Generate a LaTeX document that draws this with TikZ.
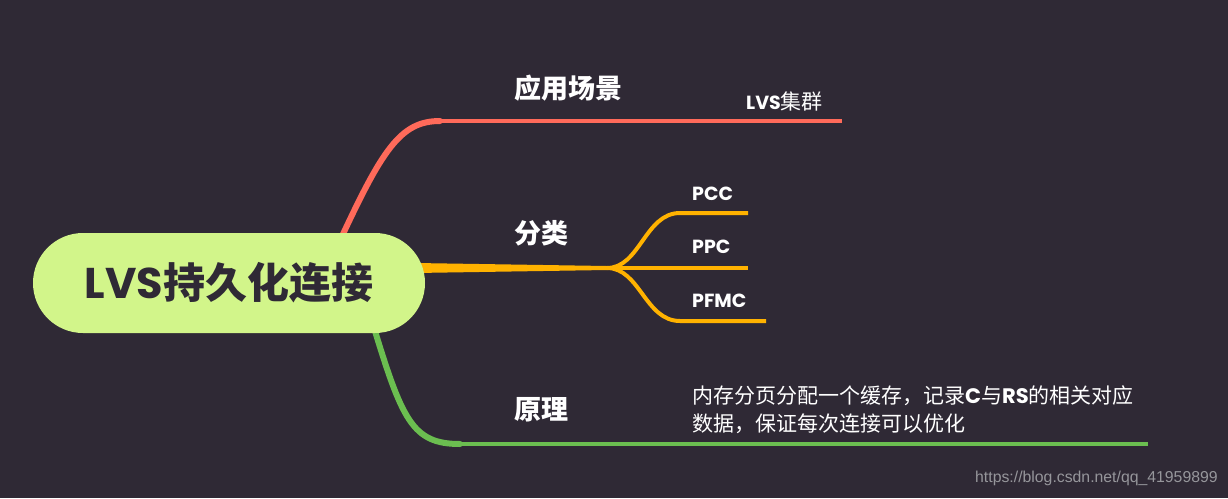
\documentclass[tikz,border=0pt]{standalone}
\usepackage{fontspec}
\setmainfont{Noto Sans CJK SC}
\newfontfamily\cjk{Noto Sans CJK SC}
\newfontfamily\pop{Poppins}
\newfontfamily\wmfont{Liberation Sans}
\usetikzlibrary{calc}
\definecolor{bgc}{RGB}{47,41,53}
\definecolor{nodec}{RGB}{210,245,138}
\definecolor{redb}{RGB}{255,106,90}
\definecolor{orab}{RGB}{255,178,0}
\definecolor{greb}{RGB}{107,190,80}
\definecolor{wmc}{RGB}{150,150,155}
\pgfdeclarelayer{back}
\pgfdeclarelayer{lines}
\pgfsetlayers{back,lines,main}
\tikzset{
  rootbox/.style={rounded corners=50pt, minimum width=392pt, minimum height=100pt, fill=nodec, text=bgc, inner sep=0pt, font=\cjk\bfseries\fontsize{42}{46}\selectfont},
  maintopic/.style={text=white, inner sep=0pt, font=\cjk\bfseries\fontsize{27}{32}\selectfont},
  subtopic/.style={text=white, inner sep=0pt, anchor=west, font=\pop\bfseries\fontsize{19}{23}\selectfont},
  desc/.style={text=white, inner sep=0pt, anchor=west, align=left, font=\cjk\fontsize{21}{28}\selectfont},
  thick1/.style={line width=6pt, line cap=round},
  thin1/.style={line width=4pt},
}
\begin{document}
\begin{tikzpicture}[x=1pt,y=-1pt]
\begin{pgfonlayer}{back}
\fill[bgc] (0,0) rectangle (1228,498);
\end{pgfonlayer}
\useasboundingbox (0,0) rectangle (1228,498);

\node[rootbox] (root) at (229,283) {{\pop\fontsize{43}{46}\selectfont LVS}持久化连接};

% topic labels
\node[maintopic] (t1) at (568.5,88) {应用场景};
\node[maintopic] (t2) at (541.5,233) {分类};
\node[maintopic] (t3) at (541.5,410) {原理};

\node[text=white, inner sep=0pt, anchor=west] (s1) at (746,101) {{\pop\bfseries\fontsize{19}{23}\selectfont LVS}{\cjk\fontsize{21}{23}\selectfont 集群}};
\node[subtopic] (p1) at (692,193.5) {PCC};
\node[subtopic] (p2) at (692,246.5) {PPC};
\node[subtopic] (p3) at (692,301) {PFMC};
\node[desc] (d1) at (692,410) {内存分页分配一个缓存，记录{\pop\bfseries C}与{\pop\bfseries RS}的相关对应\\数据，保证每次连接可以优化};

\node[text=wmc, inner sep=0pt, anchor=west, font=\wmfont\fontsize{15.8}{18}\selectfont] (wm) at (975,478) {https://blog.csdn.net/qq\_41959899};

% connector end points
\coordinate (r0) at (440,121);
\coordinate (r1) at (842,121);
\coordinate (fork) at (607,268);
\coordinate (o1a) at (680,213);
\coordinate (o1) at (748,213);
\coordinate (o2) at (748,268);
\coordinate (o3a) at (680,321);
\coordinate (o3) at (766,321);
\coordinate (g0) at (460,444);
\coordinate (g1) at (1148,444);

\begin{pgfonlayer}{lines}
% red branch
\draw[redb, thick1] ($(root.north)+(109,12)$) .. controls (382,150) and (400,121) .. (r0);
\draw[redb, thin1] (r0) -- (r1);
% orange branch
\fill[orab] ($(root.east)+(-10,-20)$) -- ($(fork)+(0,-2)$) -- ($(fork)+(0,2)$) -- ($(root.east)+(-10,-10)$) -- cycle;
\draw[orab, thin1] (fork) .. controls (640,268) and (645,213) .. (o1a) -- (o1);
\draw[orab, thin1] (fork) -- (o2);
\draw[orab, thin1] (fork) .. controls (640,268) and (645,321) .. (o3a) -- (o3);
% green branch
\draw[greb, thick1] ($(root.south)+(143,-12)$) .. controls (402,420) and (412,444) .. (g0);
\draw[greb, thin1] (g0) -- (g1);
\end{pgfonlayer}
\end{tikzpicture}
\end{document}
